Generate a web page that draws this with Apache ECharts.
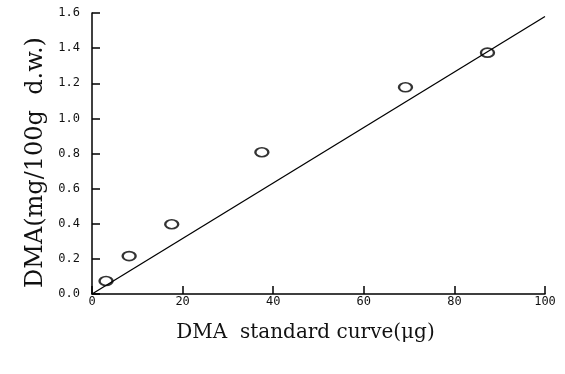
<!DOCTYPE html>
<html>
<head>
<meta charset="utf-8">
<script src="https://cdn.jsdelivr.net/npm/echarts@6/dist/echarts.min.js"></script>
<style>
  html, body { margin: 0; padding: 0; background: #fff; }
  #chart { width: 565px; height: 374px; }
</style>
</head>
<body>
<div id="chart"></div>
<script>
// measured points (standard amount, DMA)
const pointX = [3.1, 8.2, 17.6, 37.5, 69.2, 87.3];
const pointY = [0.074, 0.216, 0.397, 0.807, 1.177, 1.374];
// fitted standard line
const lineX = [0, 100];
const lineY = [0, 1.58];

const tickFont = 'DejaVu Sans Mono';
const serif = 'DejaVu Serif';

const myChart = echarts.init(document.getElementById('chart'));

const option = {
  backgroundColor: '#fff',
  animation: false,
  grid: {
    left: 92,
    right: 20,
    top: 13,
    bottom: 80,
  },
  xAxis: {
    type: 'value',
    min: 0,
    max: 100,
    interval: 20,
    name: 'DMA  standard curve(μg)',
    nameLocation: 'middle',
    nameGap: 29,
    nameTextStyle: {
      fontFamily: serif,
      fontSize: 20,
      color: '#111',
      padding: [0, 26, 0, 0],
    },
    axisLine: { lineStyle: { color: '#000', width: 1.5 } },
    axisTick: { inside: true, length: 8, lineStyle: { color: '#000', width: 1.5 } },
    axisLabel: {
      margin: 2,
      fontFamily: tickFont,
      fontSize: 12,
      color: '#111',
    },
    splitLine: { show: false },
  },
  yAxis: {
    type: 'value',
    min: 0,
    max: 1.6,
    interval: 0.2,
    name: 'DMA(mg/100g  d.w.)',
    nameLocation: 'middle',
    nameGap: 43,
    nameTextStyle: {
      fontFamily: serif,
      fontSize: 24,
      color: '#111',
      padding: [0, 18, 0, 0],
    },
    axisLine: { show: true, lineStyle: { color: '#000', width: 1.5 } },
    axisTick: { show: true, inside: true, length: 8, lineStyle: { color: '#000', width: 1.5 } },
    axisLabel: {
      margin: 12,
      fontFamily: tickFont,
      fontSize: 12,
      color: '#111',
      formatter(val) {
        return val.toFixed(1);
      },
    },
    splitLine: { show: false },
  },
  series: [
    {
      type: 'line',
      data: lineX.map((x, i) => [x, lineY[i]]),
      showSymbol: false,
      lineStyle: { color: '#000', width: 1.3 },
      silent: true,
    },
    {
      type: 'scatter',
      data: pointX.map((x, i) => [x, pointY[i]]),
      symbol: 'emptyCircle',
      symbolSize: [13, 9],
      itemStyle: { color: '#000', borderWidth: 1.3 },
    },
  ],
};

myChart.setOption(option);
</script>
</body>
</html>
